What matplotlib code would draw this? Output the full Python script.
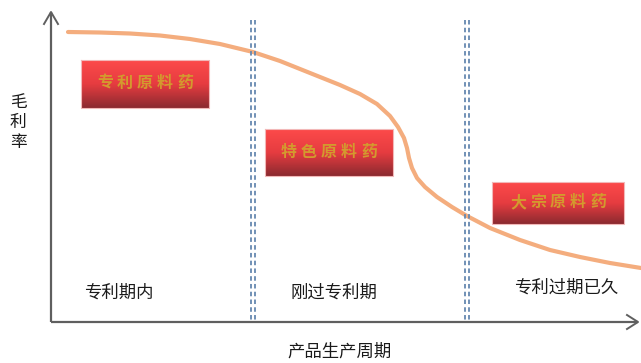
import numpy as np
import matplotlib.pyplot as plt
from matplotlib.colors import LinearSegmentedColormap

plt.rcParams['font.family'] = ['Noto Sans CJK SC', 'DejaVu Sans']

# --- Data (pixel-like coordinates, y grows downward) ---
curve_x = [68, 100, 130, 160, 190, 220, 253, 280, 310, 340, 360, 377, 390,
           398, 404, 407, 409, 412, 417, 425, 437, 452, 467, 490, 520, 550,
           580, 610, 641]
curve_y = [32, 32.5, 33.5, 35.5, 39, 44, 52, 61, 73, 85, 94, 104, 116,
           127, 138, 148, 158, 168, 178, 187, 197, 207, 216, 228, 240, 250,
           257, 263, 268]

box_labels = ["专利原料药", "特色原料药", "大宗原料药"]
box_x0 = [81, 265, 492]
box_x1 = [209, 393, 624]
box_y0 = [60, 129, 182]
box_y1 = [108, 176, 224]

stage_labels = ["专利期内", "刚过专利期", "专利过期已久"]
stage_x = [119, 334, 566]
stage_y = [293, 293, 288]

divider_x = [253, 467]

xlabel = "产品生产周期"
ylabel = "毛利率"

# --- Figure ---
fig = plt.figure(figsize=(6.41, 3.63), dpi=100)
ax = fig.add_axes([0, 0, 1, 1])

axis_col = '#5f5f5f'
# axes with open arrow heads
ax.plot([51, 51], [322, 12], color=axis_col, lw=1.6, solid_capstyle='butt')
ax.plot([51, 638], [322, 322], color=axis_col, lw=1.6, solid_capstyle='butt')
ax.plot([44, 51, 58], [24, 12, 24], color=axis_col, lw=1.4)
ax.plot([627, 638, 627], [315, 322, 329], color=axis_col, lw=1.4)

# dotted double dividers
for dx in divider_x:
    for off in (-1.6, 1.6):
        ax.plot([dx + off, dx + off], [20, 322], color='#6688b0', lw=1.3,
                linestyle=(0, (2.5, 1.8)))

# gradient boxes
cmap = LinearSegmentedColormap.from_list('redgrad', ['#fc4a4a', '#e63c40', '#8c2a30'])
grad = np.linspace(0, 1, 64).reshape(-1, 1)
for lab, x0, x1, y0, y1 in zip(box_labels, box_x0, box_x1, box_y0, box_y1):
    ax.imshow(grad, extent=[x0, x1, y1, y0], aspect='auto', cmap=cmap,
              origin='upper', zorder=2)
    ax.plot([x0, x1, x1, x0, x0], [y0, y0, y1, y1, y0], color='#f2b8b8',
            lw=0.8, zorder=3)
    n = len(lab)
    step = 20
    cx = (x0 + x1) / 2
    cy = (y0 + y1) / 2 - 1
    for i, ch in enumerate(lab):
        ax.text(cx + (i - (n - 1) / 2) * step, cy, ch, color='#d39a2e',
                fontsize=11.5, fontweight='bold', ha='center', va='center',
                zorder=4)

# margin curve
ax.plot(curve_x, curve_y, color='#f4ad7e', lw=3, solid_capstyle='round',
        solid_joinstyle='round', zorder=1)

# stage labels
for lab, sx, sy in zip(stage_labels, stage_x, stage_y):
    ax.text(sx, sy, lab, fontsize=12.5, ha='center', va='center', color='#1a1a1a')

ax.text(340, 352, xlabel, fontsize=12.5, ha='center', va='center', color='#1a1a1a')
for i, ch in enumerate(ylabel):
    ax.text(18, 102 + i * 20, ch, fontsize=12, ha='center', va='center', color='#1a1a1a')

ax.set_xlim(0, 641)
ax.set_ylim(363, 0)
ax.axis('off')

fig.savefig('out.png', dpi=100)
